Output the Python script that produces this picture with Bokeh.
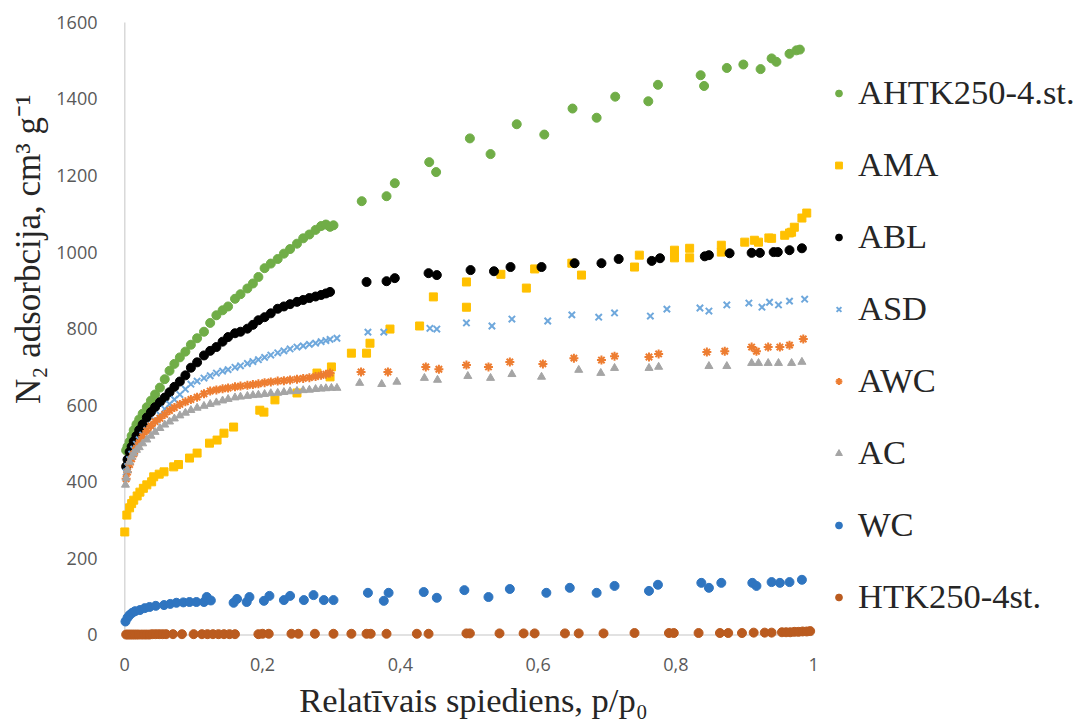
from bokeh.plotting import figure
from bokeh.models import (Range1d, FixedTicker, CustomJSTickFormatter, Legend, LegendItem, Title)
from bokeh.embed import file_html
from bokeh.resources import INLINE

# ---------------- data ----------------
x_ticks = [0, 0.2, 0.4, 0.6, 0.8, 1]
y_ticks = [0, 200, 400, 600, 800, 1000, 1200, 1400, 1600]

series_names = ["AHTK250-4.st.", "AMA", "ABL", "ASD", "AWC", "AC", "WC", "HTK250-4st."]

ahtk_x = [0.002, 0.004, 0.007, 0.010, 0.013, 0.017, 0.021, 0.026, 0.032, 0.038, 0.044, 0.051, 0.058, 0.065,
          0.072, 0.080, 0.088, 0.096, 0.105, 0.115, 0.124, 0.133, 0.142, 0.150, 0.160, 0.168, 0.178, 0.186,
          0.194, 0.203, 0.212, 0.222, 0.231, 0.240, 0.250, 0.259, 0.268, 0.277, 0.285, 0.292, 0.298, 0.303,
          0.344, 0.380, 0.392, 0.442, 0.452, 0.501, 0.531, 0.569, 0.609, 0.650, 0.685, 0.712, 0.760, 0.774,
          0.836, 0.841, 0.874, 0.898, 0.923, 0.939, 0.946, 0.965, 0.975, 0.980]
ahtk_y = [482, 492, 505, 520, 535, 550, 563, 578, 595, 612, 628, 646, 668, 690,
          708, 725, 740, 758, 775, 792, 815, 835, 848, 858, 878, 890, 905, 918,
          935, 958, 970, 982, 996, 1008, 1022, 1036, 1046, 1058, 1068, 1072, 1066, 1070,
          1133, 1146, 1180, 1235, 1209, 1297, 1256, 1334, 1307, 1375, 1351, 1406, 1394, 1437,
          1462, 1434, 1481, 1490, 1478, 1506, 1497, 1518, 1527, 1529]

ama_x = [0.000, 0.003, 0.007, 0.010, 0.013, 0.018, 0.022, 0.027, 0.032, 0.039, 0.042, 0.050, 0.057, 0.071,
         0.078, 0.094, 0.105, 0.123, 0.134, 0.144, 0.158, 0.196, 0.202, 0.218, 0.250, 0.279, 0.298, 0.300,
         0.329, 0.351, 0.356, 0.385, 0.428, 0.448, 0.496, 0.496, 0.546, 0.583, 0.595, 0.649, 0.663, 0.740,
         0.747, 0.798, 0.798, 0.820, 0.820, 0.866, 0.866, 0.900, 0.914, 0.920, 0.935, 0.939, 0.958, 0.965,
         0.968, 0.972, 0.983, 0.990]
ama_y = [269, 313, 332, 343, 352, 363, 373, 383, 392, 400, 413, 420, 426, 439,
         445, 462, 475, 501, 509, 527, 543, 587, 582, 614, 632, 684, 674, 700,
         736, 736, 762, 799, 807, 883, 856, 922, 942, 906, 956, 971, 940, 961,
         992, 1005, 985, 1010, 985, 1018, 1000, 1026, 1031, 1026, 1037, 1036, 1044, 1050,
         1052, 1065, 1089, 1102]

abl_x = [0.002, 0.004, 0.007, 0.010, 0.013, 0.017, 0.021, 0.026, 0.032, 0.038, 0.044, 0.051, 0.058, 0.065,
         0.072, 0.080, 0.088, 0.096, 0.105, 0.115, 0.124, 0.133, 0.142, 0.150, 0.160, 0.168, 0.178, 0.186,
         0.194, 0.203, 0.212, 0.222, 0.231, 0.240, 0.250, 0.259, 0.268, 0.277, 0.285, 0.292, 0.298,
         0.351, 0.380, 0.392, 0.441, 0.453, 0.502, 0.536, 0.560, 0.605, 0.653, 0.692, 0.717, 0.765, 0.777,
         0.842, 0.848, 0.878, 0.910, 0.922, 0.942, 0.948, 0.965, 0.983]
abl_y = [440, 458, 478, 492, 506, 520, 535, 550, 568, 582, 595, 608, 620, 634,
         648, 662, 678, 698, 712, 730, 742, 752, 766, 778, 788, 792, 800, 810,
         822, 830, 840, 852, 858, 864, 870, 875, 880, 884, 888, 892, 896,
         922, 924, 932, 945, 940, 953, 950, 961, 961, 971, 971, 982, 977, 984,
         989, 992, 997, 998, 998, 1000, 1000, 1005, 1010]

asd_x = [0.002, 0.004, 0.007, 0.010, 0.013, 0.017, 0.021, 0.026, 0.032, 0.038, 0.044, 0.051, 0.058, 0.065,
         0.072, 0.080, 0.088, 0.096, 0.105, 0.115, 0.124, 0.133, 0.142, 0.150, 0.160, 0.168, 0.178, 0.186,
         0.194, 0.203, 0.212, 0.222, 0.231, 0.240, 0.250, 0.259, 0.268, 0.277, 0.285, 0.292, 0.298, 0.308,
         0.353, 0.376, 0.443, 0.453, 0.496, 0.533, 0.562, 0.614, 0.649, 0.688, 0.711, 0.763, 0.787, 0.835,
         0.848, 0.874, 0.906, 0.925, 0.936, 0.949, 0.965, 0.987]
asd_y = [425, 440, 458, 472, 485, 498, 510, 522, 535, 547, 560, 575, 590, 603,
         615, 628, 642, 655, 663, 671, 677, 684, 689, 693, 699, 703, 709, 714,
         719, 725, 731, 737, 742, 747, 752, 755, 759, 762, 766, 769, 772, 775,
         791, 791, 801, 799, 815, 807, 825, 820, 836, 830, 841, 833, 851, 854,
         846, 862, 867, 856, 869, 862, 872, 877]

awc_x = [0.002, 0.004, 0.007, 0.010, 0.013, 0.017, 0.021, 0.026, 0.032, 0.038, 0.044, 0.051, 0.058, 0.065,
         0.072, 0.080, 0.088, 0.096, 0.105, 0.115, 0.124, 0.133, 0.142, 0.150, 0.160, 0.168, 0.178, 0.186,
         0.194, 0.203, 0.212, 0.222, 0.231, 0.240, 0.250, 0.259, 0.268, 0.277, 0.285, 0.292, 0.298,
         0.343, 0.382, 0.437, 0.456, 0.496, 0.528, 0.559, 0.607, 0.652, 0.692, 0.711, 0.761, 0.775, 0.845,
         0.871, 0.910, 0.917, 0.934, 0.951, 0.965, 0.985]
awc_y = [408, 425, 445, 460, 473, 488, 502, 518, 533, 546, 557, 566, 576, 586,
         594, 602, 609, 615, 621, 630, 637, 640, 643, 645, 648, 650, 652, 654,
         656, 659, 661, 663, 664, 666, 668, 670, 672, 675, 678, 681, 684,
         687, 687, 700, 694, 705, 700, 713, 708, 723, 718, 728, 726, 734, 739,
         741, 752, 741, 752, 752, 757, 773]

ac_x = [0.001, 0.002, 0.004, 0.007, 0.010, 0.013, 0.017, 0.021, 0.026, 0.032, 0.038, 0.044, 0.051, 0.058,
        0.065, 0.072, 0.080, 0.088, 0.096, 0.105, 0.115, 0.124, 0.133, 0.142, 0.150, 0.160, 0.168, 0.178,
        0.186, 0.194, 0.203, 0.212, 0.222, 0.231, 0.240, 0.250, 0.259, 0.268, 0.277, 0.285, 0.292, 0.300,
        0.308, 0.341, 0.373, 0.395, 0.435, 0.454, 0.498, 0.531, 0.562, 0.605, 0.659, 0.691, 0.711, 0.761,
        0.775, 0.848, 0.874, 0.910, 0.920, 0.934, 0.949, 0.968, 0.983]
ac_y = [392, 410, 430, 452, 465, 474, 483, 490, 500, 510, 520, 530, 540, 549,
        557, 565, 573, 580, 587, 593, 598, 603, 607, 612, 616, 620, 622, 624,
        626, 627, 629, 631, 632, 634, 636, 637, 639, 640, 642, 643, 644, 645,
        645, 658, 655, 661, 671, 666, 676, 671, 681, 674, 692, 684, 697, 697,
        700, 702, 702, 710, 710, 710, 710, 710, 713]

wc_x = [0.001, 0.004, 0.007, 0.011, 0.015, 0.022, 0.029, 0.036, 0.045, 0.057, 0.066, 0.075, 0.085, 0.094,
        0.104, 0.115, 0.119, 0.125, 0.158, 0.163, 0.177, 0.181, 0.202, 0.210, 0.231, 0.240, 0.260, 0.274,
        0.289, 0.303, 0.353, 0.376, 0.383, 0.434, 0.453, 0.493, 0.528, 0.559, 0.612, 0.646, 0.685, 0.711,
        0.761, 0.774, 0.837, 0.848, 0.866, 0.911, 0.917, 0.939, 0.951, 0.965, 0.983]
wc_y = [35, 45, 52, 58, 62, 65, 70, 73, 76, 78, 81, 84, 85, 86,
        86, 86, 99, 90, 84, 94, 86, 99, 89, 102, 91, 102, 91, 104,
        91, 91, 110, 89, 110, 112, 97, 117, 99, 120, 110, 123, 110, 128,
        115, 131, 136, 123, 136, 136, 128, 138, 136, 138, 144]

htk_x = [0.002, 0.005, 0.008, 0.011, 0.014, 0.017, 0.020, 0.024, 0.028, 0.032, 0.036, 0.040, 0.045, 0.050,
         0.055, 0.060, 0.070, 0.083, 0.100, 0.112, 0.120, 0.128, 0.136, 0.144, 0.152, 0.160, 0.194, 0.200,
         0.209, 0.242, 0.252, 0.276, 0.303, 0.329, 0.351, 0.357, 0.380, 0.424, 0.441, 0.496, 0.501, 0.544,
         0.579, 0.595, 0.639, 0.659, 0.695, 0.740, 0.790, 0.797, 0.833, 0.864, 0.876, 0.896, 0.913, 0.929,
         0.939, 0.954, 0.960, 0.966, 0.972, 0.978, 0.984, 0.990, 0.995]
htk_y = [1, 1, 1, 1, 1, 1, 1, 1, 1, 1, 1, 2, 2, 2,
         2, 2, 2, 2, 2, 2, 2, 2, 2, 2, 2, 2, 2, 3,
         3, 3, 3, 3, 3, 3, 3, 3, 3, 3, 3, 4, 4, 4,
         4, 4, 4, 4, 4, 5, 5, 5, 5, 5, 5, 5, 6, 6,
         6, 7, 7, 7, 8, 8, 9, 9, 10]

# ---------------- styling ----------------
SERIF = "Liberation Serif"
SANS = "Open Sans"
TICK_COLOR = "#595959"
TEXT_COLOR = "#262626"

p = figure(frame_width=714, frame_height=642,
           min_border_left=115, min_border_right=248, min_border_top=2, min_border_bottom=76,
           x_range=Range1d(-0.012, 1.0245), y_range=Range1d(-25, 1652),
           output_backend="svg", toolbar_location=None, background_fill_color="white",
           border_fill_color="white")
p.outline_line_color = None
p.xgrid.visible = False
p.ygrid.visible = False

for ax in (p.xaxis[0], p.yaxis[0]):
    ax.axis_line_color = None
    ax.major_tick_line_color = None
    ax.minor_tick_line_color = None
    ax.major_label_text_font = SANS
    ax.major_label_text_font_size = "18px"
    ax.major_label_text_color = TICK_COLOR

p.xaxis[0].ticker = FixedTicker(ticks=x_ticks)
p.yaxis[0].ticker = FixedTicker(ticks=y_ticks)
p.xaxis[0].formatter = CustomJSTickFormatter(
    code="return tick.toFixed(1).replace('.', ',').replace(',0', '');")
p.xaxis[0].major_label_standoff = 7
p.yaxis[0].major_label_standoff = 13

p.xaxis[0].axis_label = "Relatīvais spiediens, p/p₀"
p.xaxis[0].axis_label_text_font = SERIF
p.xaxis[0].axis_label_text_font_size = "34.5px"
p.xaxis[0].axis_label_text_font_style = "normal"
p.xaxis[0].axis_label_text_color = TEXT_COLOR
p.xaxis[0].axis_label_standoff = 7

ytitle = Title(text="N₂ adsorbcija, cm³ g⁻¹", align="right", offset=92, standoff=12,
               text_font=SERIF, text_font_size="35px", text_font_style="normal",
               text_color=TEXT_COLOR)
p.add_layout(ytitle, "left")

# axis lines (x axis at y=0, y axis at x=0), spanning the tick ranges
p.segment(x0=[x_ticks[0]], y0=[y_ticks[0]], x1=[x_ticks[-1]], y1=[y_ticks[0]],
          line_color="#d9d9d9", line_width=1.5)
p.segment(x0=[x_ticks[0]], y0=[y_ticks[0]], x1=[x_ticks[0]], y1=[y_ticks[-1]],
          line_color="#d9d9d9", line_width=1.5)

specs = [
    (ahtk_x, ahtk_y, "circle", "#70AD47", 9),
    (ama_x, ama_y, "square", "#FFC000", 8),
    (abl_x, abl_y, "circle", "#000000", 9),
    (asd_x, asd_y, "x", "#6FA8DC", 9),
    (awc_x, awc_y, "asterisk", "#ED7D31", 9),
    (ac_x, ac_y, "triangle", "#A5A5A5", 8),
    (wc_x, wc_y, "circle", "#2F75C0", 9),
    (htk_x, htk_y, "circle", "#BA5B1F", 9),
]

renderers = []
for xs, ys, marker, color, size in specs:
    lw = 2 if marker in ("x", "asterisk") else 1
    r = p.scatter(x=xs, y=ys, marker=marker, size=size, fill_color=color, line_color=color,
                  line_width=lw)
    renderers.append(r)

# invisible spacer entry so the legend starts lower in the right panel
spacer = p.scatter(x=[], y=[], marker="circle", size=1, fill_alpha=0, line_alpha=0)

items = [LegendItem(label=" ", renderers=[spacer])]
items += [LegendItem(label=n, renderers=[r]) for n, r in zip(series_names, renderers)]
legend = Legend(items=items, location="top_left", orientation="vertical",
                border_line_color=None, background_fill_alpha=0,
                padding=0, margin=0, spacing=33,
                glyph_width=17, glyph_height=38, label_height=38, label_standoff=11,
                label_text_font=SERIF, label_text_font_size="34.5px", label_text_color=TEXT_COLOR)
p.add_layout(legend, "right")

open("out.html", "w").write(file_html(p, INLINE))
